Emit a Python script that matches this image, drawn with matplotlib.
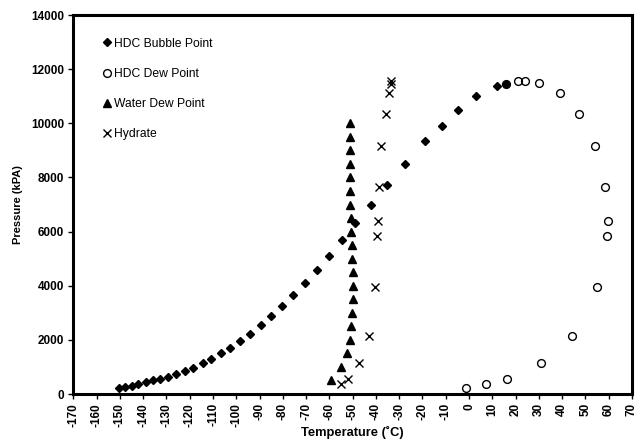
import matplotlib
matplotlib.use("Agg")
import matplotlib.pyplot as plt
import numpy as np

plt.rcParams['font.family'] = ['Liberation Sans', 'DejaVu Sans']
plt.rcParams['axes.unicode_minus'] = False

# HDC bubble point curve
bubble_T = [-150.3, -147.8, -145.0, -142.1, -139.0, -136.0, -132.8, -129.3, -125.7,
            -122.1, -118.6, -114.5, -110.7, -106.7, -102.5, -98.2, -94.0, -89.5,
            -85.0, -80.4, -75.5, -70.6, -65.5, -60.3, -54.7, -49.1, -42.2, -35.4,
            -27.5, -19.0, -11.8, -4.7, 2.9, 11.9, 16.0]
bubble_P = [210, 258, 306, 369, 443, 517, 553, 638, 738, 849, 970, 1133, 1280, 1502,
            1708, 1945, 2225, 2535, 2878, 3247, 3642, 4085, 4565, 5081, 5672, 6310,
            6985, 7712, 8513, 9347, 9915, 10480, 10996, 11365, 11465]

# HDC dew point curve
dew_T = [16.0, 21.0, 23.9, 30.2, 39.2, 47.3, 54.2, 58.5, 59.5, 59.3, 55.2, 44.2,
         30.8, 16.5, 7.2, -1.5]
dew_P = [11465, 11561, 11561, 11502, 11118, 10358, 9177, 7649, 6395, 5841, 3937,
         2151, 1133, 565, 369, 232]

# water dew point
water_T = [-59.5, -55.0, -52.3, -51.2, -50.5, -50.1, -49.9, -49.8, -49.9, -50.1,
           -50.3, -50.6, -50.8, -51.0, -51.1, -51.1, -51.1, -51.1, -51.1, -51.1]
water_P = [500, 1000, 1500, 2000, 2500, 3000, 3500, 4000, 4500, 5000, 5500, 6000,
           6500, 7000, 7500, 8000, 8500, 9000, 9500, 10000]

# hydrate formation
hydrate_T = [-55.0, -51.8, -47.1, -43.1, -40.4, -39.5, -39.3, -38.8, -37.8, -35.7,
             -34.3, -33.6, -33.4]
hydrate_P = [369, 565, 1133, 2151, 3937, 5841, 6395, 7649, 9177, 10358, 11118,
             11561, 11465]

fig = plt.figure(figsize=(6.38, 4.48), dpi=100)
ax = fig.add_axes([0.115, 0.1205, 0.8755, 0.846])

ax.plot(bubble_T, bubble_P, ls='none', marker='D', ms=4, color='black',
        label='HDC Bubble Point')
ax.plot(dew_T, dew_P, ls='none', marker='o', ms=5.6, mfc='none', mec='black',
        mew=1.0, label='HDC Dew Point')
ax.plot(water_T, water_P, ls='none', marker='^', ms=5.8, color='black',
        label='Water Dew Point')
ax.plot(hydrate_T, hydrate_P, ls='none', marker='x', ms=5.5, mew=1.0,
        color='black', label='Hydrate')

ax.set_xlim(-170, 70)
ax.set_ylim(0, 14000)
ax.set_xticks(np.arange(-170, 71, 10))
ax.set_yticks(np.arange(0, 14001, 2000))

for s in ax.spines.values():
    s.set_linewidth(2.2)
ax.tick_params(direction='out', length=3.5, width=1, labelsize=8.5, pad=3)
for lab in ax.get_xticklabels():
    lab.set_rotation(90)
    lab.set_fontweight('bold')
for lab in ax.get_yticklabels():
    lab.set_fontweight('bold')

ax.set_xlabel('Temperature (˚C)', fontsize=9.3, fontweight='bold', labelpad=-1)
ax.set_ylabel('Pressure (kPA)', fontsize=8, fontweight='bold', labelpad=6)

ax.legend(loc='upper left', bbox_to_anchor=(0.045, 0.953), frameon=False,
          fontsize=8.7, handlelength=0.6, handletextpad=0.3, labelspacing=1.5,
          borderaxespad=0)

fig.savefig('out.png', dpi=100)
